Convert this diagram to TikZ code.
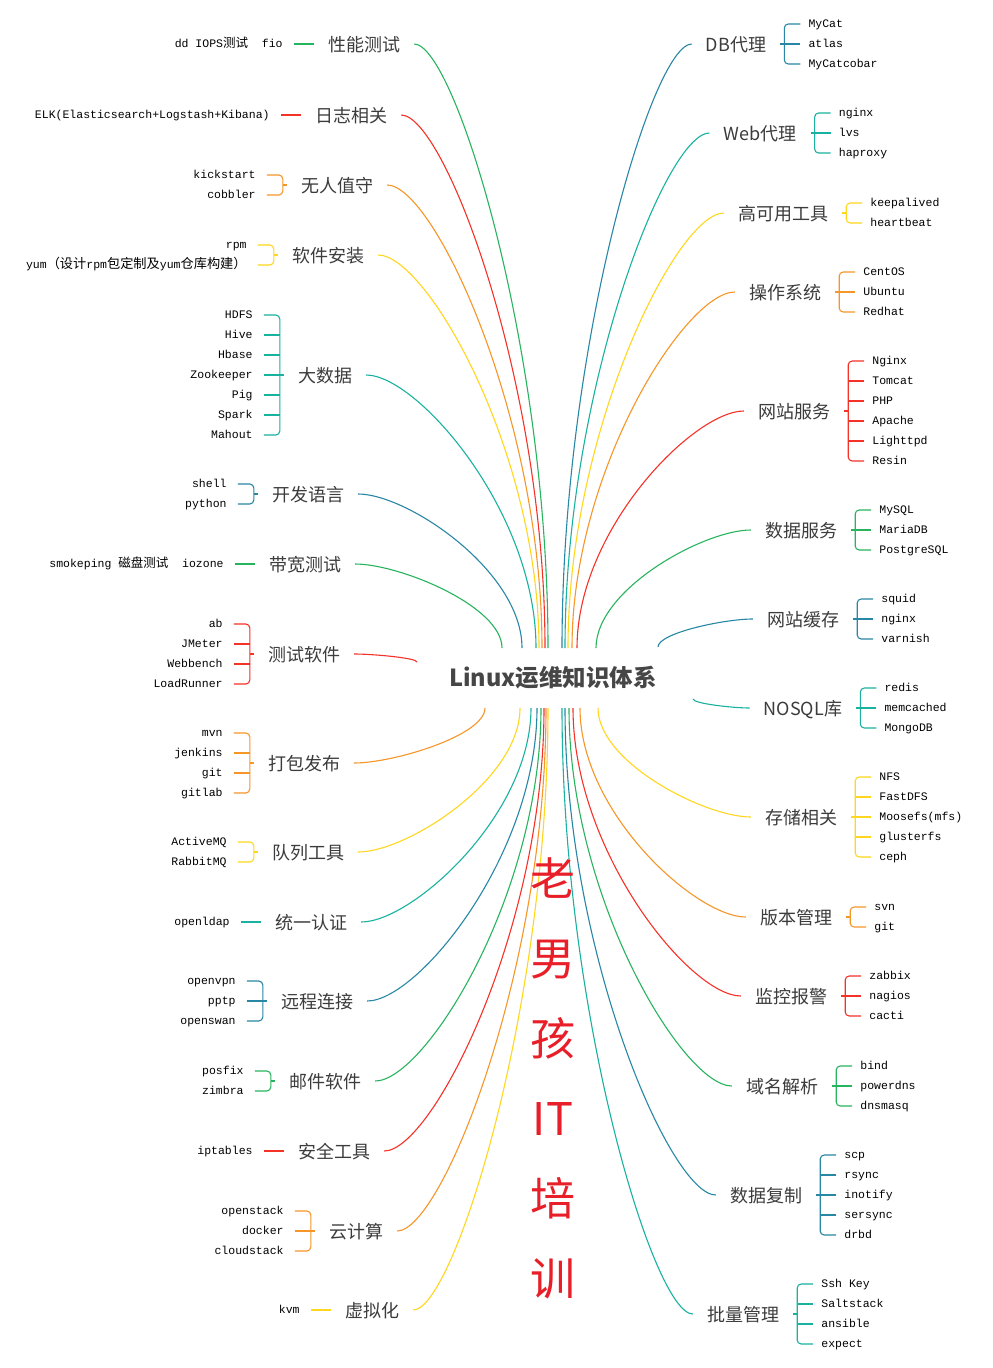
\documentclass[tikz,border=0pt]{standalone}
\usepackage{fontspec}
\usetikzlibrary{calc}
\newfontfamily\zhfont{Noto Sans CJK SC}
\newfontfamily\leaffont{Liberation Mono}
\newcommand\zht[1]{{\zhfont\fontsize{12.5}{13}\selectfont #1}}
\newcommand\zhw[1]{{\zhfont\fontsize{13.2}{13}\selectfont #1}}
\definecolor{cgreen}{RGB}{40,180,95}
\definecolor{cred}{RGB}{245,50,40}
\definecolor{corange}{RGB}{247,150,40}
\definecolor{cyellow}{RGB}{255,215,30}
\definecolor{cteal}{RGB}{25,178,160}
\definecolor{cblue}{RGB}{40,135,165}
\definecolor{labelgray}{RGB}{60,60,60}
\definecolor{titlegray}{RGB}{70,70,70}
\definecolor{brandred}{RGB}{232,30,40}
\tikzset{
  branch/.style={font=\zhfont\fontsize{18}{20}\selectfont, text=labelgray, inner xsep=14pt, inner ysep=2pt, text height=15pt, text depth=1pt},
  leafL/.style={font=\leaffont\fontsize{11.5}{13}\selectfont, text=black, anchor=east, inner xsep=11pt, inner ysep=1pt, text height=8pt, text depth=1.5pt},
  leafR/.style={font=\leaffont\fontsize{11.5}{13}\selectfont, text=black, anchor=west, inner xsep=8pt, inner ysep=1pt, text height=8pt, text depth=1.5pt},
  curveline/.style={line width=1.1pt},
  brk/.style={line width=1.1pt},
}
% left branch: name, colour, cx, cy, text, ex, ey, leaves
\newcommand\LB[8]{%
  \node[branch] (#1) at (#3,#4) {#5};
  \coordinate (#1e) at (#6,#7);
  \draw[curveline,#2] (#1.east) .. controls ($(#1.east)!0.3!(#1e |- #1.east)$) and ($(#1e)!0.5!(#1e |- #1.east)$) .. (#1e);
  \foreach \lf [count=\i] in {#8} {\global\let\nleaves\i}%
  \ifnum\nleaves=1
    \node[leafL] (#1l1) at ($(#1.west)+(-20,0)$) {#8};
    \draw[brk,#2] (#1l1.east) -- (#1.west);
  \else
    \coordinate (#1b) at ($(#1.west)+(-4,0)$);
    \foreach \lf [count=\i] in {#8} {%
      \pgfmathsetmacro\dy{(\i-(\nleaves+1)/2)*20}
      \node[leafL] (#1l\i) at ($(#1b)+(-16,\dy)$) {\lf};
      \ifnum\i>1 \ifnum\i<\nleaves
        \draw[brk,#2] (#1l\i.east) -- (#1l\i.east -| #1b);
      \fi\fi
    }
    \draw[brk,#2,rounded corners=4pt] (#1l1.east) -- (#1l1.east -| #1b) -- (#1l\nleaves.east -| #1b) -- (#1l\nleaves.east);
    \draw[brk,#2] (#1b) -- (#1.west);
  \fi
}
% right branch
\newcommand\RB[8]{%
  \node[branch] (#1) at (#3,#4) {#5};
  \coordinate (#1e) at (#6,#7);
  \draw[curveline,#2] (#1.west) .. controls ($(#1.west)!0.3!(#1e |- #1.west)$) and ($(#1e)!0.5!(#1e |- #1.west)$) .. (#1e);
  \foreach \lf [count=\i] in {#8} {\global\let\nleaves\i}%
  \coordinate (#1b) at ($(#1.east)+(4,0)$);
  \foreach \lf [count=\i] in {#8} {%
    \pgfmathsetmacro\dy{(\i-(\nleaves+1)/2)*20}
    \node[leafR] (#1l\i) at ($(#1b)+(16,\dy)$) {\lf};
    \ifnum\i>1 \ifnum\i<\nleaves
      \draw[brk,#2] (#1l\i.west) -- (#1l\i.west -| #1b);
    \fi\fi
  }
  \draw[brk,#2,rounded corners=4pt] (#1l1.west) -- (#1l1.west -| #1b) -- (#1l\nleaves.west -| #1b) -- (#1l\nleaves.west);
  \draw[brk,#2] (#1b) -- (#1.east);
}
\begin{document}
\begin{tikzpicture}[x=1pt,y=-1pt]
\useasboundingbox[fill=white] (0,0) rectangle (993,1368);

\node[font=\zhfont\bfseries\fontsize{23.5}{25}\selectfont, text=titlegray] (root) at (553,678) {Linux运维知识体系};

\LB{L1}{cgreen}{364}{44}{性能测试}{548}{648}{dd IOPS\zht{测试}\ \ fio}
\LB{L2}{cred}{351}{115}{日志相关}{545}{648}{ELK(Elasticsearch+Logstash+Kibana)}
\LB{L3}{corange}{337}{185}{无人值守}{542}{648}{kickstart,cobbler}
\LB{L4}{cyellow}{328}{255}{软件安装}{539}{648}{rpm,yum\zhw{（设计}rpm\zhw{包定制及}yum\zhw{仓库构建）}}
\LB{L5}{cteal}{325}{375}{大数据}{536}{648}{HDFS,Hive,Hbase,Zookeeper,Pig,Spark,Mahout}
\LB{L6}{cblue}{308}{494}{开发语言}{522}{648}{shell,python}
\LB{L7}{cgreen}{305}{564}{带宽测试}{502}{648}{smokeping \zht{磁盘测试}\ \ iozone}
\LB{L8}{cred}{304}{654}{测试软件}{417}{662}{ab,JMeter,Webbench,LoadRunner}
\LB{L9}{corange}{304}{763}{打包发布}{485}{708}{mvn,jenkins,git,gitlab}
\LB{L10}{cyellow}{308}{852}{队列工具}{520}{708}{ActiveMQ,RabbitMQ}
\LB{L11}{cteal}{311}{922}{统一认证}{531}{708}{openldap}
\LB{L12}{cblue}{317}{1001}{远程连接}{537}{708}{openvpn,pptp,openswan}
\LB{L13}{cgreen}{325}{1081}{邮件软件}{541}{708}{posfix,zimbra}
\LB{L14}{cred}{334}{1151}{安全工具}{544}{708}{iptables}
\LB{L15}{corange}{356}{1231}{云计算}{546}{708}{openstack,docker,cloudstack}
\LB{L16}{cyellow}{372}{1310}{虚拟化}{548}{708}{kvm}

\RB{R1}{cblue}{736}{44}{DB代理}{562}{648}{MyCat,atlas,MyCatcobar}
\RB{R2}{cteal}{760}{133}{Web代理}{565}{648}{nginx,lvs,haproxy}
\RB{R3}{cyellow}{783}{213}{高可用工具}{568}{648}{keepalived,heartbeat}
\RB{R4}{corange}{785}{292}{操作系统}{572}{648}{CentOS,Ubuntu,Redhat}
\RB{R5}{cred}{794}{411}{网站服务}{577}{648}{Nginx,Tomcat,PHP,Apache,Lighttpd,Resin}
\RB{R6}{cgreen}{801}{530}{数据服务}{596}{648}{MySQL,MariaDB,PostgreSQL}
\RB{R7}{cblue}{803}{619}{网站缓存}{658}{647}{squid,nginx,varnish}
\RB{R8}{cteal}{803}{708}{NOSQL库}{693}{699}{redis,memcached,MongoDB}
\RB{R9}{cyellow}{801}{817}{存储相关}{598}{708}{NFS,FastDFS,Moosefs(mfs),glusterfs,ceph}
\RB{R10}{corange}{796}{917}{版本管理}{580}{708}{svn,git}
\RB{R11}{cred}{791}{996}{监控报警}{573}{708}{zabbix,nagios,cacti}
\RB{R12}{cgreen}{782}{1086}{域名解析}{569}{708}{bind,powerdns,dnsmasq}
\RB{R13}{cblue}{766}{1195}{数据复制}{565}{708}{scp,rsync,inotify,sersync,drbd}
\RB{R14}{cteal}{743}{1314}{批量管理}{562}{708}{Ssh Key,Saltstack,ansible,expect}

\node[font=\zhfont\fontsize{45}{80}\selectfont, text=brandred, align=center, inner sep=0pt] (brand) at (553,1078) {老\\男\\孩\\IT\\培\\训};
\end{tikzpicture}
\end{document}
